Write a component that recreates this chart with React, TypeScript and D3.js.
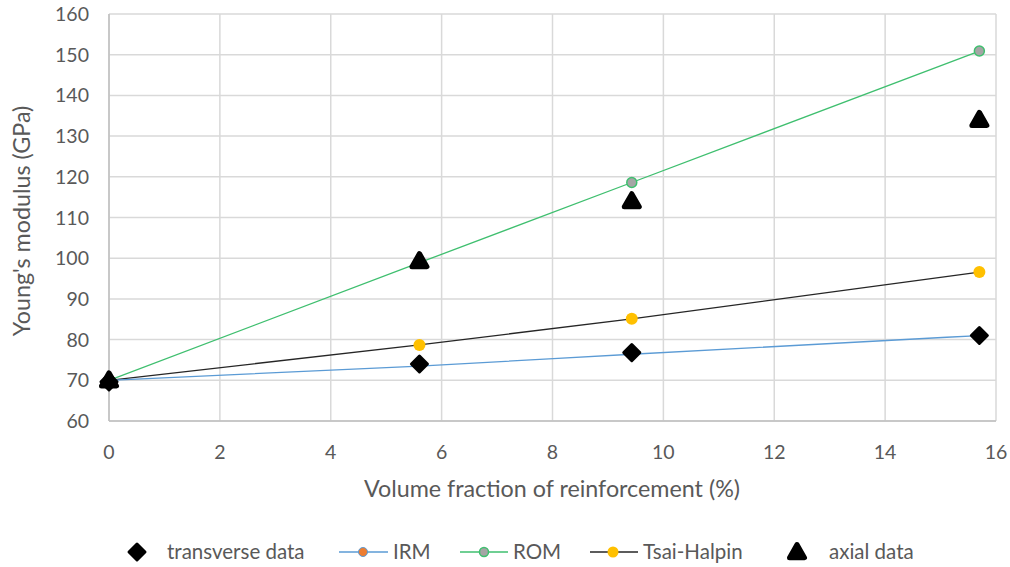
import React from "react";
import * as d3 from "d3";

// Reinforcement volume fractions (%) and moduli (GPa)
const fractions = [0, 5.6, 9.43, 15.7];
const transverseData = [69.6, 74.0, 76.8, 81.0];
const irm = [70, 73.5, 76.4, 81.0];
const rom = [70, 98.9, 118.6, 150.9];
const tsaiHalpin = [70, 78.7, 85.1, 96.6];
const axialData = [70.0, 99.3, 114.0, 134.0];

const xTicks = [0, 2, 4, 6, 8, 10, 12, 14, 16];
const yTicks = [60, 70, 80, 90, 100, 110, 120, 130, 140, 150, 160];

const W = 1010;
const H = 567;
const FONT = "Lato, 'Open Sans', sans-serif";
const TEXT = "#595959";
const GRID = "#d9d9d9";

const x = d3.scaleLinear().domain([0, 16]).range([109, 996]);
const y = d3.scaleLinear().domain([60, 160]).range([421, 14]);

const pts = (vals: number[]) => fractions.map((f, i) => [f, vals[i]] as [number, number]);

const straight = d3.line<[number, number]>().x((d) => x(d[0])).y((d) => y(d[1]));
const smooth = d3
  .line<[number, number]>()
  .x((d) => x(d[0]))
  .y((d) => y(d[1]))
  .curve(d3.curveMonotoneX);

const diamondPath = (cx: number, cy: number, r: number) =>
  `M${cx},${cy - r}L${cx + r},${cy}L${cx},${cy + r}L${cx - r},${cy}Z`;
const trianglePath = (cx: number, cy: number, r: number) =>
  `M${cx},${cy - r}L${cx + r},${cy + r * 0.75}L${cx - r},${cy + r * 0.75}Z`;

const Diamond = ({ cx, cy }: { cx: number; cy: number }) => (
  <path d={diamondPath(cx, cy, 8)} fill="#000" stroke="#000" strokeWidth={3} strokeLinejoin="round" />
);
const Triangle = ({ cx, cy }: { cx: number; cy: number }) => (
  <path d={trianglePath(cx, cy, 7.5)} fill="#000" stroke="#000" strokeWidth={5} strokeLinejoin="round" />
);

export default function App() {
  const legendY = 552;
  return (
    <svg width={W} height={H} style={{ display: "block", position: "absolute", left: 0, top: 0 }}>
      <rect width={W} height={H} fill="#fff" />
      {/* grid */}
      {yTicks.map((t) => (
        <line key={"gy" + t} x1={x(0)} x2={x(16)} y1={y(t)} y2={y(t)} stroke={GRID} strokeWidth={1.5} />
      ))}
      {xTicks.map((t) => (
        <line key={"gx" + t} x1={x(t)} x2={x(t)} y1={y(60)} y2={y(160)} stroke={GRID} strokeWidth={1.5} />
      ))}
      <line x1={x(0)} x2={x(0)} y1={y(60)} y2={y(160)} stroke="#bfbfbf" strokeWidth={1.5} />
      <line x1={x(0)} x2={x(16)} y1={y(60)} y2={y(60)} stroke="#bfbfbf" strokeWidth={1.5} />

      {/* tick labels */}
      {yTicks.map((t) => (
        <text key={"ly" + t} x={89} y={y(t)} dy="0.36em" textAnchor="end" fontFamily={FONT} fontSize={19.5} fill={TEXT}>
          {t}
        </text>
      ))}
      {xTicks.map((t) => (
        <text key={"lx" + t} x={x(t)} y={452} dy="0.36em" textAnchor="middle" fontFamily={FONT} fontSize={19.5} fill={TEXT}>
          {t}
        </text>
      ))}

      {/* axis titles */}
      <text x={552} y={489} dy="0.36em" textAnchor="middle" fontFamily={FONT} fontSize={23.3} fill={TEXT}>
        Volume fraction of reinforcement (%)
      </text>
      <text
        transform={`translate(22,221) rotate(-90)`}
        dy="0.36em"
        textAnchor="middle"
        fontFamily={FONT}
        fontSize={23.3}
        fill={TEXT}
      >
        Young's modulus (GPa)
      </text>

      {/* model lines */}
      <path d={straight(pts(rom)) || ""} fill="none" stroke="#3fbf6f" strokeWidth={1.3} />
      <path d={smooth(pts(tsaiHalpin)) || ""} fill="none" stroke="#262626" strokeWidth={1.3} />
      <path d={smooth(pts(irm)) || ""} fill="none" stroke="#5b9bd5" strokeWidth={1.3} />

      {/* model markers */}
      {pts(irm).map((d, i) => (
        <circle key={"irm" + i} cx={x(d[0])} cy={y(d[1])} r={4} fill="#ed7d31" stroke="#5b9bd5" strokeWidth={1} />
      ))}
      {pts(rom).map((d, i) => (
        <circle key={"rom" + i} cx={x(d[0])} cy={y(d[1])} r={5} fill="#a5a5a5" stroke="#3fbf6f" strokeWidth={1.5} />
      ))}
      {pts(tsaiHalpin).map((d, i) => (
        <circle key={"th" + i} cx={x(d[0])} cy={y(d[1])} r={6} fill="#ffc000" />
      ))}

      {/* measured data */}
      {pts(transverseData).map((d, i) => (
        <Diamond key={"tr" + i} cx={x(d[0])} cy={y(d[1])} />
      ))}
      {pts(axialData).map((d, i) => (
        <Triangle key={"ax" + i} cx={x(d[0])} cy={y(d[1])} />
      ))}

      {/* legend */}
      <g fontFamily={FONT} fontSize={20.5} fill={TEXT}>
        <Diamond cx={137} cy={legendY} />
        <text x={167} y={legendY} dy="0.36em">transverse data</text>

        <line x1={339} x2={388} y1={legendY} y2={legendY} stroke="#5b9bd5" strokeWidth={1.3} />
        <circle cx={363} cy={legendY} r={4.5} fill="#ed7d31" stroke="#5b9bd5" strokeWidth={1} />
        <text x={393} y={legendY} dy="0.36em">IRM</text>

        <line x1={460} x2={508} y1={legendY} y2={legendY} stroke="#3fbf6f" strokeWidth={1.3} />
        <circle cx={484} cy={legendY} r={4.5} fill="#a5a5a5" stroke="#3fbf6f" strokeWidth={1.5} />
        <text x={513} y={legendY} dy="0.36em">ROM</text>

        <line x1={590} x2={638} y1={legendY} y2={legendY} stroke="#262626" strokeWidth={1.3} />
        <circle cx={613} cy={legendY} r={5.5} fill="#ffc000" />
        <text x={643} y={legendY} dy="0.36em">Tsai-Halpin</text>

        <Triangle cx={797} cy={legendY} />
        <text x={829} y={legendY} dy="0.36em">axial data</text>
      </g>
    </svg>
  );
}
